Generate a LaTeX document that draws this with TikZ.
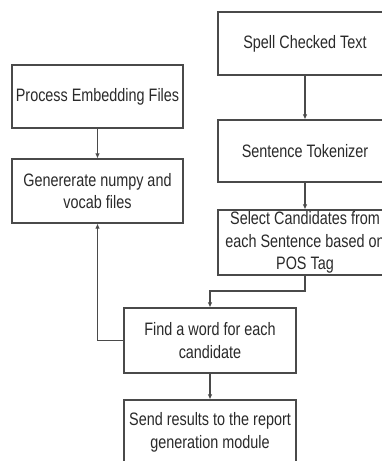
\documentclass[tikz,border=0pt]{standalone}
\usepackage{fontspec}
\setmainfont{Liberation Sans}[FakeStretch=0.8]
\usetikzlibrary{arrows.meta}
\definecolor{ink}{HTML}{2A2A2A}
\definecolor{edge}{HTML}{4A4A4A}
\tikzset{
  box/.style={draw=edge, line width=1.2pt, fill=white, text=ink, align=center,
    inner sep=0pt, font=\fontsize{18}{22.5}\selectfont},
  arr/.style={draw=edge, line width=1.2pt, -{Latex[length=5pt,width=4.5pt]}}
}
\begin{document}
\begin{tikzpicture}[x=1pt,y=-1pt]
\useasboundingbox (0,0) rectangle (382,461);
\clip (0,0) rectangle (382,461);
\fill[white] (0,0) rectangle (382,461);
\node[box, minimum width=174pt, minimum height=63pt] (spell) at (305,43.5) {Spell Checked Text};
\node[box, minimum width=174pt, minimum height=62pt] (sent) at (305,151) {Sentence Tokenizer};
\node[box, minimum width=174pt, minimum height=65pt] (sel) at (305,242.5) {Select Candidates from\\each Sentence based on\\POS Tag};
\node[box, minimum width=171pt, minimum height=63pt] (proc) at (97.5,96.5) {Process Embedding Files};
\node[box, minimum width=171pt, minimum height=64pt] (gen) at (97.5,191) {Genererate numpy and\\vocab files};
\node[box, minimum width=172pt, minimum height=65pt] (find) at (210,340.5) {Find a word for each\\candidate};
\node[box, minimum width=172pt, minimum height=65pt] (send) at (210,432.5) {Send results to the report\\generation module};
\coordinate (bend) at (210,291);
\draw[arr] (spell.south) -- (sent.north);
\draw[arr] (sent.south) -- (sel.north);
\draw[arr] (sel.south) |- (bend) -- (find.north);
\draw[arr] (proc.south) -- (gen.north);
\draw[arr] (find.west) -| (gen.south);
\draw[arr] (find.south) -- (send.north);
\end{tikzpicture}
\end{document}
